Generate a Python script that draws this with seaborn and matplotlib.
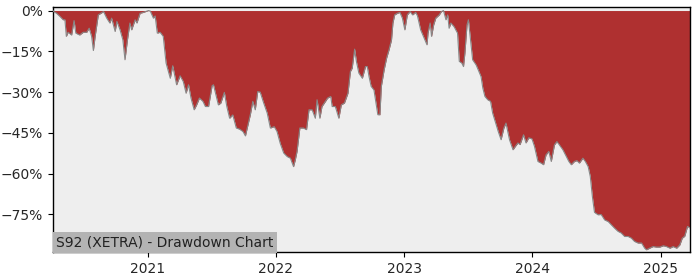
import matplotlib
matplotlib.use("Agg")
import matplotlib.pyplot as plt
import matplotlib.ticker as mticker
import seaborn as sns
import pandas as pd
import numpy as np

dates = [
    "2020-04-06", "2020-04-08", "2020-04-16", "2020-04-26", "2020-05-05", "2020-05-10",
    "2020-05-14", "2020-05-19", "2020-05-29", "2020-06-05", "2020-06-10", "2020-06-21",
    "2020-07-01", "2020-07-11", "2020-07-18", "2020-07-25", "2020-07-30", "2020-08-04",
    "2020-08-13", "2020-08-28", "2020-09-06", "2020-09-15", "2020-09-20", "2020-09-30",
    "2020-10-05", "2020-10-14", "2020-10-22", "2020-10-28", "2020-11-04", "2020-11-11",
    "2020-11-16", "2020-11-26", "2020-12-01", "2020-12-10", "2020-12-19", "2021-01-03",
    "2021-01-08", "2021-01-17", "2021-01-22", "2021-01-28", "2021-02-05", "2021-02-14",
    "2021-02-22", "2021-03-06", "2021-03-13", "2021-03-24", "2021-04-03", "2021-04-12",
    "2021-04-20", "2021-04-27", "2021-05-04", "2021-05-13", "2021-05-20", "2021-05-28",
    "2021-06-07", "2021-06-14", "2021-06-23", "2021-07-03", "2021-07-07", "2021-07-15",
    "2021-07-21", "2021-07-28", "2021-08-07", "2021-08-14", "2021-08-22", "2021-08-31",
    "2021-09-10", "2021-09-19", "2021-09-29", "2021-10-06", "2021-10-12", "2021-10-20",
    "2021-10-27", "2021-11-03", "2021-11-10", "2021-11-17", "2021-11-27", "2021-12-07",
    "2021-12-16", "2021-12-27", "2022-01-04", "2022-01-13", "2022-01-23", "2022-02-02",
    "2022-02-11", "2022-02-20", "2022-02-25", "2022-03-02", "2022-03-10", "2022-03-20",
    "2022-03-29", "2022-04-05", "2022-04-14", "2022-04-23", "2022-04-28", "2022-05-06",
    "2022-05-12", "2022-05-22", "2022-05-28", "2022-06-06", "2022-06-10", "2022-06-19",
    "2022-06-29", "2022-07-06", "2022-07-15", "2022-07-25", "2022-08-01", "2022-08-06",
    "2022-08-13", "2022-08-18", "2022-08-25", "2022-09-04", "2022-09-13", "2022-09-18",
    "2022-09-23", "2022-09-29", "2022-10-07", "2022-10-15", "2022-10-18", "2022-10-24",
    "2022-10-28", "2022-11-05", "2022-11-12", "2022-11-19", "2022-11-26", "2022-11-30",
    "2022-12-05", "2022-12-13", "2022-12-20", "2022-12-27", "2023-01-03", "2023-01-10",
    "2023-01-18", "2023-01-25", "2023-02-03", "2023-02-08", "2023-02-17", "2023-02-27",
    "2023-03-07", "2023-03-10", "2023-03-16", "2023-03-20", "2023-03-26", "2023-04-01",
    "2023-04-11", "2023-04-17", "2023-04-23", "2023-04-30", "2023-05-05", "2023-05-09",
    "2023-05-14", "2023-05-23", "2023-06-02", "2023-06-07", "2023-06-14", "2023-06-19",
    "2023-06-23", "2023-06-29", "2023-07-03", "2023-07-08", "2023-07-15", "2023-07-25",
    "2023-07-31", "2023-08-08", "2023-08-13", "2023-08-19", "2023-08-27", "2023-09-04",
    "2023-09-10", "2023-09-20", "2023-09-26", "2023-10-04", "2023-10-12", "2023-10-18",
    "2023-10-28", "2023-11-07", "2023-11-14", "2023-11-21", "2023-11-27", "2023-12-07",
    "2023-12-14", "2023-12-22", "2023-12-31", "2024-01-07", "2024-01-17", "2024-01-26",
    "2024-02-02", "2024-02-09", "2024-02-17", "2024-02-24", "2024-03-04", "2024-03-11",
    "2024-03-18", "2024-03-28", "2024-04-07", "2024-04-14", "2024-04-21", "2024-04-30",
    "2024-05-07", "2024-05-14", "2024-05-24", "2024-05-31", "2024-06-08", "2024-06-14",
    "2024-06-20", "2024-06-26", "2024-07-06", "2024-07-15", "2024-07-25", "2024-08-04",
    "2024-08-13", "2024-08-22", "2024-09-01", "2024-09-10", "2024-09-20", "2024-09-30",
    "2024-10-09", "2024-10-18", "2024-10-28", "2024-11-07", "2024-11-16", "2024-11-21",
    "2024-11-30", "2024-12-10", "2024-12-19", "2024-12-29", "2025-01-08", "2025-01-17",
    "2025-01-27", "2025-02-05", "2025-02-15", "2025-02-24", "2025-03-03", "2025-03-10",
    "2025-03-18", "2025-03-25",
]

drawdown = [
    0.0, -0.4, -1.0, -2.2, -3.4, -3.4,
    -9.5, -8.0, -9.0, -3.7, -8.3, -9.0,
    -8.0, -8.0, -6.5, -9.5, -14.7, -9.5,
    -1.6, -0.4, -2.8, -4.6, -2.8, -7.7,
    -4.0, -7.1, -10.8, -18.1, -10.8, -4.6,
    -7.1, -3.4, -4.6, -1.0, -0.7, 0.0,
    -0.2, -2.8, -2.0, -8.3, -8.0, -9.5,
    -19.3, -24.9, -20.3, -27.3, -24.0, -26.1,
    -30.4, -27.3, -32.2, -36.5, -34.7, -32.2,
    -33.4, -35.3, -35.3, -27.7, -27.3, -31.6,
    -34.7, -34.0, -30.1, -35.3, -39.6, -38.4,
    -43.2, -43.6, -44.5, -46.1, -42.7, -38.3,
    -33.4, -36.5, -29.8, -30.0, -34.0, -37.7,
    -43.2, -42.7, -44.5, -48.8, -52.4, -53.7,
    -54.3, -57.4, -54.9, -51.8, -43.2, -43.2,
    -43.8, -36.5, -36.5, -39.6, -32.8, -39.6,
    -35.3, -33.4, -32.2, -31.6, -35.3, -35.3,
    -39.6, -34.7, -34.0, -30.4, -22.4, -21.2,
    -14.2, -18.7, -23.0, -24.9, -20.6, -20.6,
    -24.3, -27.9, -29.2, -35.9, -38.3, -38.3,
    -27.9, -21.8, -17.5, -14.4, -10.8, -4.6,
    -1.6, -1.0, -0.7, -2.8, -7.1, -1.6,
    -0.4, -1.6, -0.7, -2.0, -7.1, -10.1,
    -12.6, -8.3, -4.6, -9.5, -5.3, -2.8,
    -1.6, -0.4, 0.0, -3.4, -1.6, -6.5,
    -4.6, -5.9, -8.3, -18.7, -19.3, -20.6,
    -15.6, -5.3, -3.4, -9.5, -18.1, -20.0,
    -21.8, -24.3, -28.5, -31.6, -32.8, -33.4,
    -37.7, -42.0, -44.5, -47.5, -43.2, -41.4,
    -47.5, -51.2, -49.9, -48.7, -49.3, -45.7,
    -48.7, -46.8, -47.2, -49.9, -55.5, -56.1,
    -56.7, -53.1, -51.8, -55.5, -49.4, -48.2,
    -49.4, -51.2, -53.7, -55.5, -56.7, -55.5,
    -55.2, -56.1, -54.3, -55.5, -57.4, -61.0,
    -68.4, -74.2, -75.1, -75.0, -77.0, -77.6,
    -78.8, -80.0, -81.2, -81.8, -83.1, -83.1,
    -83.7, -84.9, -85.5, -85.5, -87.4, -88.0,
    -87.4, -86.8, -87.0, -87.0, -86.5, -86.8,
    -87.4, -86.8, -87.4, -86.2, -83.7, -83.0,
    -79.4, -80.0,
]

title_text = "S92 (XETRA) - Drawdown Chart"
y_ticks = [0, -15, -30, -45, -60, -75]
x_tick_years = ["2021", "2022", "2023", "2024", "2025"]

df = pd.DataFrame({"date": pd.to_datetime(dates), "dd": drawdown})

sns.set_style("white")
plt.rcParams["font.family"] = ["DejaVu Sans"]

fig = plt.figure(figsize=(7, 2.8), dpi=100)
ax = fig.add_axes([0.0757, 0.1, 0.91, 0.875])
ax.set_facecolor("#eeeeee")

ax.fill_between(df["date"], df["dd"], 0, color="#af3030", linewidth=0, zorder=2)
sns.lineplot(data=df, x="date", y="dd", ax=ax, color="#888888", linewidth=0.8, zorder=3)

ax.set_xlim(df["date"].iloc[0], df["date"].iloc[-1])
ax.set_ylim(-88.8, 1.3)
ax.set_yticks(y_ticks)
ax.yaxis.set_major_formatter(mticker.FuncFormatter(lambda v, p: f"{int(v)}%".replace("-", "\u2212")))
ax.set_xticks(pd.to_datetime([y + "-01-01" for y in x_tick_years]))
ax.set_xticklabels(x_tick_years)
ax.set_xlabel("")
ax.set_ylabel("")
ax.tick_params(axis="both", which="both", length=3.5, width=0.8, labelsize=10, color="black",
               left=True, bottom=True)
for s in ax.spines.values():
    s.set_visible(True)
    s.set_color("black")
    s.set_linewidth(1.0)

ax.text(0.005, 0.012, title_text, transform=ax.transAxes, fontsize=10, color="#222222",
        ha="left", va="bottom", zorder=5,
        bbox=dict(facecolor="#b3b3b3", edgecolor="none", pad=2.5))

fig.savefig("out.png", dpi=100)
